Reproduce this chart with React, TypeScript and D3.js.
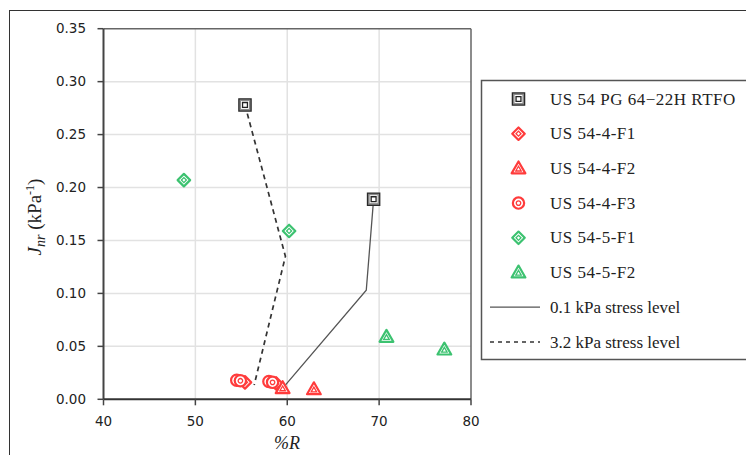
import React from 'react';
import * as d3 from 'd3';

// Chart data
const xTicks = [40, 50, 60, 70, 80];
const yTicks = [0, 0.05, 0.1, 0.15, 0.2, 0.25, 0.3, 0.35];

const rtfoR = [55.4, 69.4];
const rtfoJ = [0.278, 0.189];

const f41R = [55.4, 58.8];
const f41J = [0.016, 0.015];

const f42R = [59.5, 62.9];
const f42J = [0.0105, 0.0095];

const f43R = [54.5, 54.9, 58.0, 58.4];
const f43J = [0.018, 0.0175, 0.0168, 0.016];

const f51R = [48.75, 60.2];
const f51J = [0.207, 0.159];

const f52R = [70.8, 77.1];
const f52J = [0.059, 0.047];

const lowStressR = [69.4, 68.6, 59.7];
const lowStressJ = [0.189, 0.103, 0.0125];

const highStressR = [55.4, 59.8, 56.4];
const highStressJ = [0.278, 0.135, 0.0135];

const legendLabels = [
  'US 54 PG 64\u221222H RTFO',
  'US 54-4-F1',
  'US 54-4-F2',
  'US 54-4-F3',
  'US 54-5-F1',
  'US 54-5-F2',
  '0.1 kPa stress level',
  '3.2 kPa stress level',
];

const RED = '#ff3b3b';
const GREEN = '#3cc270';

type Shape = 'square' | 'diamond' | 'triangle' | 'circle';

const symType = {
  square: d3.symbolSquare,
  diamond: d3.symbolSquare,
  triangle: d3.symbolTriangle,
  circle: d3.symbolCircle,
};
const outerSize = { square: 150, diamond: 78, triangle: 82, circle: 100 };

function Marker({ x, y, shape, color }: { x: number; y: number; shape: Shape; color: string }) {
  const big = d3.symbol(symType[shape], outerSize[shape])() || '';
  const mid = d3.symbol(symType[shape], outerSize[shape] * 0.42)() || '';
  const small = d3.symbol(symType[shape], outerSize[shape] * 0.16)() || '';
  const dy = shape === 'triangle' ? 1 : 0;
  const rot = shape === 'diamond' ? ' rotate(45)' : '';
  if (shape === 'square') {
    return (
      <g transform={`translate(${x},${y})`}>
        <path d={big} fill="#8a8a8a" stroke="#2a2a2a" strokeWidth={1.3} />
        <path d={mid} fill="#fff" />
        <path d={small} fill="#fff" stroke="#222" strokeWidth={1.3} />
      </g>
    );
  }
  return (
    <g transform={`translate(${x},${y + dy})${rot}`}>
      <path d={big} fill="#fff" stroke={color} strokeWidth={2.2} strokeLinejoin="round" />
      <path d={small} fill="#fff" stroke={color} strokeWidth={1.3} />
    </g>
  );
}

export default function App() {
  const W = 746;
  const H = 455;
  const x = d3.scaleLinear().domain([40, 80]).range([103.5, 471]);
  const y = d3.scaleLinear().domain([0, 0.35]).range([399.3, 28.7]);

  const line = d3
    .line<[number, number]>()
    .x((d) => x(d[0]))
    .y((d) => y(d[1]));

  const zip = (a: number[], b: number[]) => a.map((v, i) => [v, b[i]] as [number, number]);

  const series: { R: number[]; J: number[]; shape: Shape; color: string }[] = [
    { R: rtfoR, J: rtfoJ, shape: 'square', color: '#333' },
    { R: f41R, J: f41J, shape: 'diamond', color: RED },
    { R: f42R, J: f42J, shape: 'triangle', color: RED },
    { R: f43R, J: f43J, shape: 'circle', color: RED },
    { R: f51R, J: f51J, shape: 'diamond', color: GREEN },
    { R: f52R, J: f52J, shape: 'triangle', color: GREEN },
  ];

  const legendY0 = 99;
  const legendStep = 34.7;

  return (
    <svg width={W} height={H} style={{ position: 'absolute', left: 0, top: 0 }}>
      <rect x={0} y={0} width={W} height={H} fill="#fff" />
      {/* outer frame */}
      <rect x={9.5} y={10.5} width={W} height={H} fill="none" stroke="#333" strokeWidth={1} />

      {/* grid */}
      {xTicks.slice(1, -1).map((t) => (
        <line key={'gx' + t} x1={x(t)} x2={x(t)} y1={y(0.35)} y2={y(0)} stroke="#e2e2e2" strokeWidth={1.5} />
      ))}
      {yTicks.slice(1, -1).map((t) => (
        <line key={'gy' + t} x1={x(40)} x2={x(80)} y1={y(t)} y2={y(t)} stroke="#e2e2e2" strokeWidth={1.5} />
      ))}

      {/* plot border */}
      <line x1={x(40)} x2={x(80)} y1={y(0.35)} y2={y(0.35)} stroke="#666" strokeWidth={1.5} />
      <line x1={x(80)} x2={x(80)} y1={y(0.35)} y2={y(0)} stroke="#666" strokeWidth={1.5} />
      <line x1={x(40)} x2={x(40)} y1={y(0.35)} y2={y(0)} stroke="#444" strokeWidth={2} />
      <line x1={x(40)} x2={x(80)} y1={y(0)} y2={y(0)} stroke="#333" strokeWidth={2} />

      {/* ticks and labels */}
      {yTicks.map((t) => (
        <g key={'ty' + t}>
          <line x1={x(40) - 6} x2={x(40)} y1={y(t)} y2={y(t)} stroke="#444" strokeWidth={1.5} />
          <text
            x={86}
            y={y(t)}
            dy="0.35em"
            textAnchor="end"
            fontFamily="DejaVu Sans"
            fontSize={13.5}
            fill="#222"
          >
            {d3.format('.2f')(t)}
          </text>
        </g>
      ))}
      {xTicks.map((t) => (
        <g key={'tx' + t}>
          <line x1={x(t)} x2={x(t)} y1={y(0)} y2={y(0) + 6} stroke="#444" strokeWidth={1.5} />
          <text
            x={x(t)}
            y={421.5}
            dy="0.35em"
            textAnchor="middle"
            fontFamily="DejaVu Sans"
            fontSize={13.5}
            fill="#222"
          >
            {t}
          </text>
        </g>
      ))}

      {/* axis titles */}
      <text x={287} y={449} textAnchor="middle" fontFamily="Liberation Serif" fontSize={18} fontStyle="italic" fill="#222">
        %R
      </text>
      <text
        transform="translate(41,217) rotate(-90)"
        textAnchor="middle"
        fontFamily="Liberation Serif"
        fontSize={19}
        fill="#222"
      >
        <tspan fontStyle="italic">J</tspan>
        <tspan fontStyle="italic" fontSize={14} dy={4}>nr</tspan>
        <tspan dy={-4}> (kPa</tspan>
        <tspan fontSize={12} dy={-7}>-1</tspan>
        <tspan dy={7}>)</tspan>
      </text>

      {/* stress level lines */}
      <path d={line(zip(lowStressR, lowStressJ)) || ''} fill="none" stroke="#555" strokeWidth={1.3} />
      <path
        d={line(zip(highStressR, highStressJ)) || ''}
        fill="none"
        stroke="#333"
        strokeWidth={1.7}
        strokeDasharray="5,4"
      />

      {/* markers */}
      {series.map((s, si) =>
        s.R.map((r, i) => <Marker key={si + '-' + i} x={x(r)} y={y(s.J[i])} shape={s.shape} color={s.color} />)
      )}

      {/* legend */}
      <rect x={481.5} y={80.5} width={300} height={279} fill="#fff" stroke="#555" strokeWidth={1.5} />
      {legendLabels.map((lab, i) => {
        const ly = legendY0 + i * legendStep;
        return (
          <g key={'lg' + i}>
            {i < 6 ? (
              <Marker x={518.5} y={ly} shape={series[i].shape} color={series[i].color} />
            ) : (
              <line
                x1={490}
                x2={540}
                y1={ly}
                y2={ly}
                stroke={i === 6 ? '#555' : '#333'}
                strokeWidth={i === 6 ? 1.3 : 1.5}
                strokeDasharray={i === 7 ? '4,4' : undefined}
              />
            )}
            <text
              x={550}
              y={ly}
              dy="0.33em"
              fontFamily="Liberation Serif"
              fontSize={17}
              letterSpacing={i < 6 ? 0.5 : 0}
              fill="#222"
            >
              {lab}
            </text>
          </g>
        );
      })}
    </svg>
  );
}
